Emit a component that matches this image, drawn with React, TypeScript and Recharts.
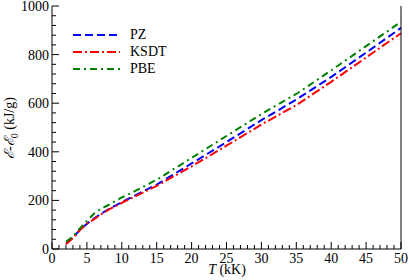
import { Line, LineChart, XAxis, YAxis } from 'recharts';

const temps = [2, 3, 4, 5, 6, 7, 8, 10, 12, 15, 20, 25, 30, 35, 40, 45, 50];
const pz = [22, 48, 78, 104, 125, 145, 162, 193, 222, 265, 352, 440, 530, 615, 708, 808, 910];
const ksdt = [20, 45, 78, 103, 122, 142, 160, 190, 218, 260, 340, 425, 512, 592, 688, 788, 888];
const pbe = [30, 52, 85, 115, 145, 165, 180, 212, 240, 285, 375, 465, 555, 638, 735, 835, 935];

const xTicks = Array.from({ length: 51 }, (_, i) => i);
const yTicks = Array.from({ length: 26 }, (_, i) => i * 40);

const rows = temps.map((t, i) => ({ t, pz: pz[i], ksdt: ksdt[i], pbe: pbe[i] }));

const series = [
  { key: 'pz', name: 'PZ', color: '#0000ff', dash: '8 4' },
  { key: 'ksdt', name: 'KSDT', color: '#ff0000', dash: '9 3 2 3' },
  { key: 'pbe', name: 'PBE', color: '#008000', dash: '7 4 2 4' },
];

const FONT = "'Liberation Serif', 'DejaVu Serif', serif";

function XTick({ x, y, payload, side }: any) {
  const v = payload.value;
  const major = v % 5 === 0;
  const len = major ? 7 : 4;
  const dir = side === 'top' ? 1 : -1;
  return (
    <g>
      <line x1={x} x2={x} y1={y} y2={y + dir * len} stroke="#000" strokeWidth={1} />
      {major && side !== 'top' && (
        <text x={x} y={y + 14} textAnchor="middle" fontSize={14} fontFamily={FONT} fill="#000">
          {v}
        </text>
      )}
    </g>
  );
}

function YTick({ x, y, payload, side }: any) {
  const v = payload.value;
  const major = v % 200 === 0;
  const len = major ? 7 : 4;
  const dir = side === 'right' ? -1 : 1;
  return (
    <g>
      <line x1={x} x2={x + dir * len} y1={y} y2={y} stroke="#000" strokeWidth={1} />
      {major && side !== 'right' && (
        <text x={x - 3} y={y + 5} textAnchor="end" fontSize={14} fontFamily={FONT} fill="#000">
          {v}
        </text>
      )}
    </g>
  );
}

function LegendBox() {
  return (
    <div style={{ position: 'absolute', left: 73, top: 26, fontFamily: FONT, fontSize: 14, lineHeight: '17px' }}>
      {series.map((s) => (
        <div key={s.key} style={{ display: 'flex', alignItems: 'center', height: 17 }}>
          <svg width={57} height={6}>
            <line x1={0} x2={47} y1={3} y2={3} stroke={s.color} strokeWidth={2} strokeDasharray={s.dash} />
          </svg>
          <span>{s.name}</span>
        </div>
      ))}
    </div>
  );
}

export default function App() {
  return (
    <div style={{ position: 'absolute', left: 0, top: 0, width: 409, height: 280, background: '#fff' }}>
      <LineChart width={409} height={280} data={rows} margin={{ top: 6, right: 0, bottom: 0, left: 0 }}>
        <XAxis
          dataKey="t"
          type="number"
          domain={[0, 50]}
          ticks={xTicks}
          interval={0}
          height={31}
          tickSize={0}
          tickMargin={0}
          axisLine={{ stroke: '#000' }}
          tick={<XTick side="bottom" />}
        />
        <XAxis
          xAxisId="top"
          orientation="top"
          type="number"
          domain={[0, 50]}
          ticks={xTicks}
          interval={0}
          height={0}
          tickSize={0}
          tickMargin={0}
          axisLine={{ stroke: '#000' }}
          tick={<XTick side="top" />}
        />
        <YAxis
          type="number"
          domain={[0, 1000]}
          ticks={yTicks}
          interval={0}
          width={52}
          tickSize={0}
          tickMargin={0}
          axisLine={{ stroke: '#000' }}
          tick={<YTick side="left" />}
        />
        <YAxis
          yAxisId="right"
          orientation="right"
          type="number"
          domain={[0, 1000]}
          ticks={yTicks}
          interval={0}
          width={8}
          tickSize={0}
          tickMargin={0}
          axisLine={{ stroke: '#000' }}
          tick={<YTick side="right" />}
        />
        {series.map((s) => (
          <Line
            key={s.key}
            dataKey={s.key}
            name={s.name}
            stroke={s.color}
            strokeWidth={2}
            strokeDasharray={s.dash}
            dot={false}
            type="linear"
            isAnimationActive={false}
          />
        ))}
        <text x={227} y={274} textAnchor="middle" fontSize={14} fontFamily={FONT} fill="#000">
          <tspan fontStyle="italic">T</tspan> (kK)
        </text>
        <text
          x={14}
          y={128}
          textAnchor="middle"
          fontSize={14}
          fontFamily={FONT}
          fill="#000"
          transform="rotate(-90 14 128)"
        >
          <tspan fontStyle="italic">ℰ</tspan>-<tspan fontStyle="italic">ℰ</tspan>
          <tspan fontSize={10} dy={4}>0</tspan>
          <tspan dy={-4}> (kJ/g)</tspan>
        </text>
      </LineChart>
      <LegendBox />
    </div>
  );
}
